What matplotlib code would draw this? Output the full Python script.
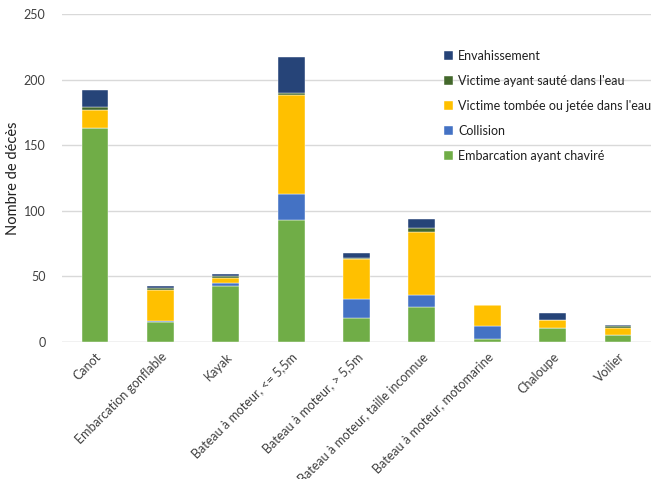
import numpy as np
import matplotlib
matplotlib.use("Agg")
import matplotlib.pyplot as plt

plt.rcParams['font.family'] = ['Lato', 'DejaVu Sans']

# Types d'embarcation
categories = [
    "Canot",
    "Embarcation gonflable",
    "Kayak",
    "Bateau à moteur, <= 5,5m",
    "Bateau à moteur, > 5,5m",
    "Bateau à moteur, taille inconnue",
    "Bateau à moteur, motomarine",
    "Chaloupe",
    "Voilier",
]

# Décès par circonstance (empilés de bas en haut)
chavire = [163, 15, 43, 93, 18, 27, 2, 11, 5]
collision = [0, 1, 2, 20, 15, 9, 10, 0, 0]
tombee = [14, 24, 4, 75, 30, 48, 16, 6, 6]
saute = [2, 1, 1, 2, 1, 3, 0, 0, 1]
envahissement = [13, 2, 2, 27, 4, 7, 0, 5, 1]

series = [
    ("Embarcation ayant chaviré", chavire, "#70AD47"),
    ("Collision", collision, "#4472C4"),
    ("Victime tombée ou jetée dans l'eau", tombee, "#FFC000"),
    ("Victime ayant sauté dans l'eau", saute, "#43682B"),
    ("Envahissement", envahissement, "#264478"),
]

fig = plt.figure(figsize=(6.62, 4.79), dpi=100)
ax = fig.add_axes([0.094, 0.286, 0.889, 0.685])

x = np.arange(len(categories))
bottom = np.zeros(len(categories))
handles = []
for label, vals, color in series:
    b = ax.bar(x, vals, 0.41, bottom=bottom, color=color, label=label,
               edgecolor="white", linewidth=0.3, zorder=3)
    handles.append(b)
    bottom += np.array(vals)

ax.set_xlim(-0.5, len(categories) - 0.5)
ax.set_ylim(0, 250)
ax.set_yticks(range(0, 251, 50))
ax.yaxis.grid(True, color="#D9D9D9", linewidth=1, zorder=0)
ax.set_axisbelow(True)
for s in ax.spines.values():
    s.set_visible(False)
ax.axhline(0, color="#D9D9D9", linewidth=1, zorder=1)

ax.tick_params(axis="y", length=0, labelsize=9, labelcolor="#404040", pad=12)
ax.tick_params(axis="x", length=0, labelsize=9, labelcolor="#404040", pad=6)
ax.set_xticks(x)
ax.set_xticklabels(categories, rotation=45, ha="right", va="top",
                   rotation_mode="anchor")
ax.set_ylabel("Nombre de décès", fontsize=10.5, color="#202020", labelpad=3)

ax.legend(handles[::-1], [s[0] for s in series][::-1], loc="upper left",
          bbox_to_anchor=(0.63, 0.925), frameon=False, fontsize=9,
          handlelength=0.7, handleheight=0.7, handletextpad=0.4,
          labelspacing=1.05, labelcolor="#202020")

fig.savefig("out.png", dpi=100)
